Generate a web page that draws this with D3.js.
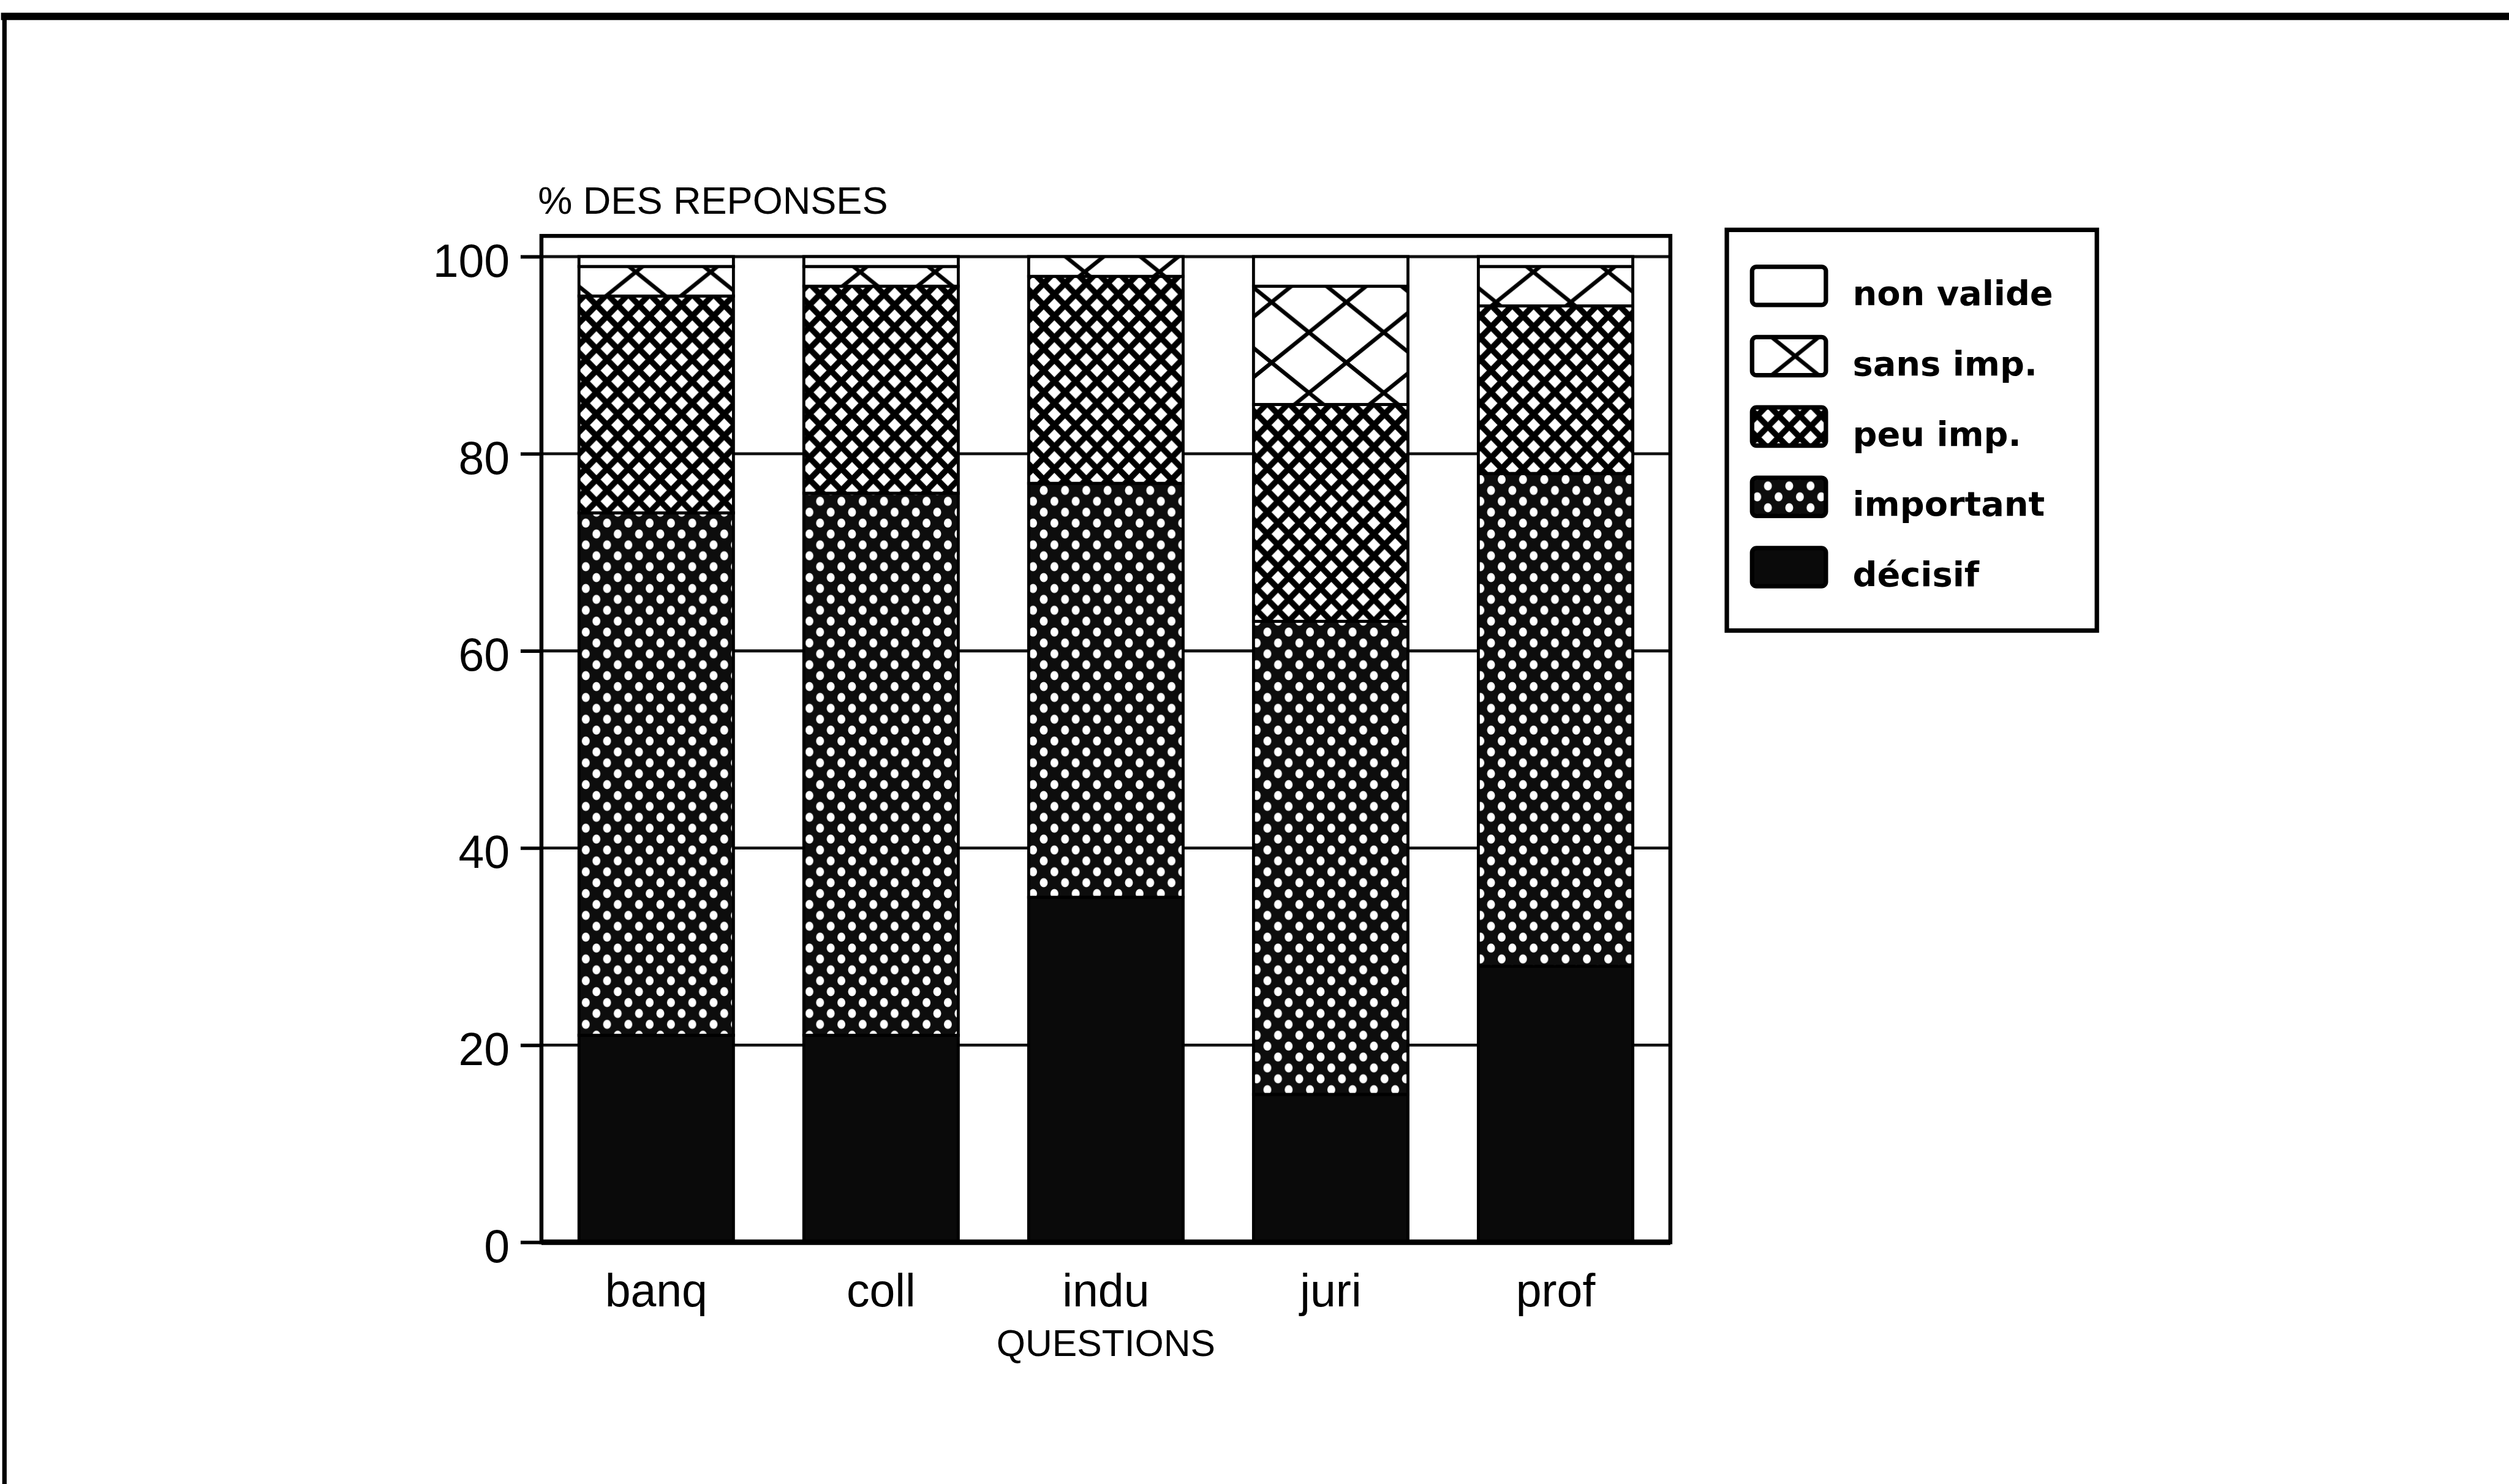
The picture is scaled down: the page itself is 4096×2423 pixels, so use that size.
<!DOCTYPE html>
<html>
<head>
<meta charset="utf-8">
<script src="https://cdn.jsdelivr.net/npm/d3@7"></script>
<style>
  html, body { margin: 0; padding: 0; background: #ffffff; }
  svg { display: block; }
</style>
</head>
<body>
<script>
// ---------- data ----------
const categories = ["banq", "coll", "indu", "juri", "prof"];
const decisif    = [21, 21, 35, 15, 28];
const important  = [53, 55, 42, 48, 50];
const peuImp     = [22, 21, 21, 22, 17];
const sansImp    = [3, 2, 2, 12, 4];
const nonValide  = [1, 1, 0, 3, 1];
const seriesKeys   = ["decisif", "important", "peuImp", "sansImp", "nonValide"];
const legendLabels = ["non valide", "sans imp.", "peu imp.", "important", "décisif"];
const legendKeys   = ["nonValide", "sansImp", "peuImp", "important", "decisif"];
const yTicks = [0, 20, 40, 60, 80, 100];
const yTitle = "% DES REPONSES";
const xTitle = "QUESTIONS";

// ---------- layout (reference units, scaled by viewBox) ----------
const W = 5065, H = 2996;
const plot = { left: 1093, right: 3372, y0: 2508, y100: 518 };

const svg = d3.select("body").append("svg")
  .attr("width", 4096).attr("height", 2423)
  .attr("viewBox", `0 0 ${W} ${H}`);

svg.append("rect").attr("width", W).attr("height", H).attr("fill", "#fff");

// ---------- patterns ----------
const defs = svg.append("defs");
function diamondPattern(id, w, h, t, bg, fg) {
  const p = defs.append("pattern").attr("id", id)
    .attr("patternUnits", "userSpaceOnUse")
    .attr("width", w).attr("height", h);
  p.append("rect").attr("width", w).attr("height", h).attr("fill", bg);
  let d = "";
  for (const k of [-1, 0, 1]) {
    d += `M${-w},${-h + k * h}L${2 * w},${2 * h + k * h}`;
  }
  for (const k of [0, 1, 2]) {
    d += `M${-w},${h + k * h}L${2 * w},${-2 * h + k * h}`;
  }
  p.append("path").attr("d", d).attr("stroke", fg).attr("stroke-width", t).attr("fill", "none");
  return p;
}
function dotPattern(id, w, h, r) {
  const p = defs.append("pattern").attr("id", id)
    .attr("patternUnits", "userSpaceOnUse")
    .attr("width", w).attr("height", h);
  p.append("rect").attr("width", w).attr("height", h).attr("fill", "#0d0d0d");
  const pts = [[w / 2, 0], [w / 2, h], [0, h / 2], [w, h / 2]];
  p.selectAll("ellipse").data(pts).join("ellipse")
    .attr("cx", d => d[0]).attr("cy", d => d[1])
    .attr("rx", r).attr("ry", r * 1.15).attr("fill", "#fff");
  return p;
}
diamondPattern("pat-sans", 151, 122, 8, "#fff", "#000");
diamondPattern("pat-peu", 43, 44, 12, "#fff", "#000");
dotPattern("pat-imp", 43, 44, 8);

const fills = {
  nonValide: "#ffffff",
  sansImp: "url(#pat-sans)",
  peuImp: "url(#pat-peu)",
  important: "url(#pat-imp)",
  decisif: "#0a0a0a"
};

// ---------- outer frame ----------
svg.append("line").attr("x1", 2).attr("x2", W).attr("y1", 33).attr("y2", 33)
  .attr("stroke", "#000").attr("stroke-width", 15);
svg.append("line").attr("x1", 9).attr("x2", 9).attr("y1", 27).attr("y2", H)
  .attr("stroke", "#000").attr("stroke-width", 9);

// ---------- scales ----------
const x = d3.scaleBand().domain(categories)
  .range([plot.left, plot.right])
  .paddingInner(0.313).paddingOuter(0.167).align(0.5);
const y = d3.scaleLinear().domain([0, 100]).range([plot.y0, plot.y100]);
const boxTop = y(102.1);

// ---------- grid lines ----------
svg.append("g").selectAll("line").data(yTicks.filter(v => v > 0)).join("line")
  .attr("x1", plot.left).attr("x2", plot.right)
  .attr("y1", d => y(d)).attr("y2", d => y(d))
  .attr("stroke", "#111").attr("stroke-width", 6);

// ---------- stacked bars ----------
const table = categories.map((c, i) => ({
  cat: c, decisif: decisif[i], important: important[i], peuImp: peuImp[i],
  sansImp: sansImp[i], nonValide: nonValide[i]
}));
const stacked = d3.stack().keys(seriesKeys)(table);

svg.append("g").selectAll("g").data(stacked).join("g")
  .attr("fill", d => fills[d.key])
  .selectAll("rect").data(d => d.filter(s => s[1] - s[0] > 0)).join("rect")
  .attr("x", d => x(d.data.cat))
  .attr("width", x.bandwidth())
  .attr("y", d => y(d[1]))
  .attr("height", d => y(d[0]) - y(d[1]))
  .attr("stroke", "#000").attr("stroke-width", 6);

// ---------- plot box ----------
svg.append("rect")
  .attr("x", plot.left).attr("y", boxTop)
  .attr("width", plot.right - plot.left).attr("height", plot.y0 - boxTop)
  .attr("fill", "none").attr("stroke", "#000").attr("stroke-width", 8);
svg.append("line").attr("x1", plot.left).attr("x2", plot.right)
  .attr("y1", plot.y0).attr("y2", plot.y0)
  .attr("stroke", "#000").attr("stroke-width", 11);

// ---------- axes ----------
const yAxis = svg.append("g").attr("transform", `translate(${plot.left},0)`)
  .call(d3.axisLeft(y).tickValues(yTicks).tickSize(42).tickPadding(22).tickFormat(d3.format("d")));
yAxis.select(".domain").remove();
yAxis.selectAll(".tick line").attr("stroke", "#000").attr("stroke-width", 7);
yAxis.selectAll(".tick text")
  .attr("font-family", "'Liberation Sans', Arial, sans-serif")
  .attr("font-size", 93).attr("fill", "#000").attr("dy", "0.43em");

const xAxis = svg.append("g").attr("transform", `translate(0,${plot.y0})`)
  .call(d3.axisBottom(x).tickSize(0).tickPadding(63));
xAxis.select(".domain").remove();
xAxis.selectAll(".tick text")
  .attr("font-family", "'Liberation Sans', Arial, sans-serif")
  .attr("font-size", 93).attr("fill", "#000");

// ---------- titles ----------
svg.append("text").attr("x", 1086).attr("y", 432)
  .attr("font-family", "'Liberation Sans', Arial, sans-serif")
  .attr("font-size", 78).attr("fill", "#000").text(yTitle);
svg.append("text").attr("x", (plot.left + plot.right) / 2).attr("y", 2738)
  .attr("text-anchor", "middle")
  .attr("font-family", "'Liberation Sans', Arial, sans-serif")
  .attr("font-size", 75).attr("fill", "#000").text(xTitle);

// ---------- legend ----------
const lg = { x: 3486, y: 464, w: 747, h: 809, sx: 3537, sw: 149, sh: 77, first: 577, step: 142, tx: 3740 };
const legend = svg.append("g");
legend.append("rect").attr("x", lg.x).attr("y", lg.y).attr("width", lg.w).attr("height", lg.h)
  .attr("fill", "#fff").attr("stroke", "#000").attr("stroke-width", 9);
const rows = legend.selectAll("g.row").data(legendKeys).join("g").attr("class", "row")
  .attr("transform", (d, i) => `translate(0,${lg.first + i * lg.step})`);
rows.append("rect").attr("x", lg.sx).attr("y", -lg.sh / 2)
  .attr("width", lg.sw).attr("height", lg.sh).attr("rx", 9)
  .attr("fill", d => fills[d]).attr("stroke", "#000").attr("stroke-width", 9);
rows.append("text").attr("x", lg.tx).attr("y", lg.sh / 2)
  .attr("font-family", "'DejaVu Sans', sans-serif").attr("font-weight", "bold")
  .attr("font-size", 69).attr("fill", "#000")
  .text((d, i) => legendLabels[i]);
</script>
</body>
</html>
